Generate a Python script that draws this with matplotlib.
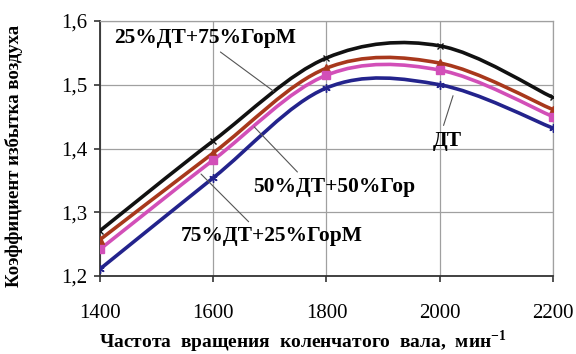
import numpy as np
import matplotlib
matplotlib.use("Agg")
import matplotlib.pyplot as plt
from matplotlib.path import Path
from matplotlib.patches import PathPatch

plt.rcParams['font.family'] = ['Liberation Serif', 'DejaVu Serif']
plt.rcParams['mathtext.fontset'] = 'custom'
plt.rcParams['mathtext.rm'] = 'Liberation Serif'
plt.rcParams['mathtext.bf'] = 'Liberation Serif:bold'

# частота вращения, мин-1
rpm = [1400, 1600, 1800, 2000, 2200]
# коэффициент избытка воздуха
dt25_gor75 = [1.271, 1.412, 1.542, 1.561, 1.480]
dt50_gor50 = [1.257, 1.393, 1.526, 1.534, 1.461]
dt75_gor25 = [1.242, 1.382, 1.515, 1.523, 1.450]
dt = [1.211, 1.354, 1.495, 1.500, 1.432]

y_ticks = [1.2, 1.3, 1.4, 1.5, 1.6]
y_labels = ['1,2', '1,3', '1,4', '1,5', '1,6']


def smooth_path(xs, ys):
    # сглаженная линия как в Excel (Catmull-Rom -> Bezier)
    p = np.column_stack([xs, ys]).astype(float)
    n = len(p)
    verts = [p[0]]
    codes = [Path.MOVETO]
    for i in range(n - 1):
        p0 = p[i - 1] if i > 0 else p[i]
        p3 = p[i + 2] if i + 2 < n else p[i + 1]
        c1 = p[i] + (p[i + 1] - p0) / 6
        c2 = p[i + 1] - (p3 - p[i]) / 6
        verts += [c1, c2, p[i + 1]]
        codes += [Path.CURVE4] * 3
    return Path(verts, codes)


fig = plt.figure(figsize=(5.76, 3.54), dpi=100)
ax = fig.add_axes([0.1736, 0.2203, 0.7864, 0.7204])

series = [
    (dt25_gor75, '#111111', 'x', 5, 1.0),
    (dt50_gor50, '#a8381c', '^', 6, 1.0),
    (dt75_gor25, '#d24fb8', 's', 6, 1.0),
    (dt, '#23238c', (6, 2, 0), 6, 1.0),
]
for ys, col, mk, ms, mew in series:
    ax.add_patch(PathPatch(smooth_path(rpm, ys), fill=False, edgecolor=col,
                           lw=2.6, capstyle='butt', zorder=3))
    ax.plot(rpm, ys, linestyle='none', marker=mk, ms=ms, color=col,
            mec=col, mew=mew, zorder=4)

ax.set_xlim(1400, 2200)
ax.set_ylim(1.2, 1.6)
ax.set_xticks(rpm)
ax.set_xticklabels([str(v) for v in rpm])
ax.set_yticks(y_ticks)
ax.set_yticklabels(y_labels)
ax.grid(True, color='#a0a0a0', lw=0.9)
ax.set_axisbelow(True)
for s in ['top', 'right']:
    ax.spines[s].set_color('#a0a0a0')
    ax.spines[s].set_linewidth(0.9)
for s in ['left', 'bottom']:
    ax.spines[s].set_color('#333333')
    ax.spines[s].set_linewidth(1.3)
ax.tick_params(axis='both', direction='out', length=4, width=1.2,
               color='#333333', labelsize=15)
ax.tick_params(axis='x', pad=16)
ax.tick_params(axis='y', pad=5)

ax.set_xlabel('Частота  вращения  коленчатого  вала,  мин$^{\\mathbf{-1}}$',
              fontsize=14, fontweight='bold')
ax.xaxis.set_label_coords(0.448, -0.205)
ax.set_ylabel('Коэффициент избытка воздуха', fontsize=13.5,
              fontweight='bold')
ax.yaxis.set_label_coords(-0.17, 0.47)

arrow = dict(arrowstyle='-', color='#555555', lw=0.8)
fs = 15.5
ax.annotate('25%ДТ+75%ГорМ', xy=(1711, 1.487), xytext=(1586, 1.574),
            ha='center', va='center', fontsize=fs, fontweight='bold',
            arrowprops=dict(arrow, relpos=(0.55, 0.0)))
ax.annotate('50%ДТ+50%Гор', xy=(1669, 1.437), xytext=(1814, 1.340),
            ha='center', va='center', fontsize=fs, fontweight='bold',
            arrowprops=dict(arrow, relpos=(0.3, 1.0)))
ax.annotate('75%ДТ+25%ГорМ', xy=(1575, 1.363), xytext=(1703, 1.262),
            ha='center', va='center', fontsize=fs, fontweight='bold',
            arrowprops=dict(arrow, relpos=(0.4, 1.0)))
ax.annotate('ДТ', xy=(2025, 1.487), xytext=(2014, 1.412),
            ha='center', va='center', fontsize=fs, fontweight='bold',
            arrowprops=dict(arrow, relpos=(0.3, 1.0)))

fig.savefig('out.png', dpi=100)
